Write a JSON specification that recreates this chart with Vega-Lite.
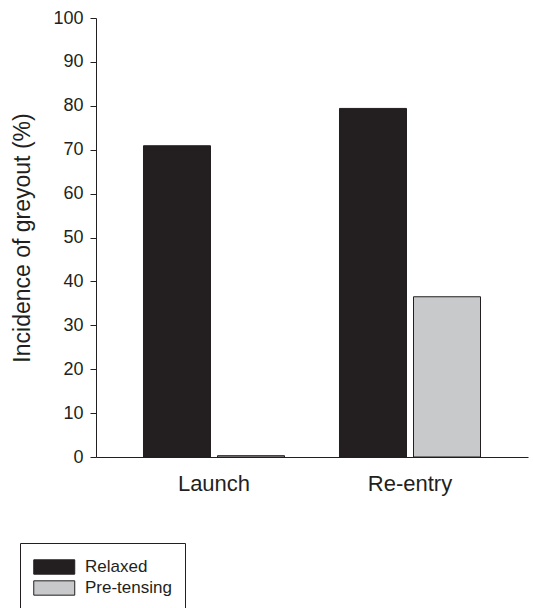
{
  "$schema": "https://vega.github.io/schema/vega-lite/v6.json",
  "autosize": {"type": "none"},
  "padding": {"left": 96, "top": 18, "right": 5, "bottom": 151},
  "width": 432,
  "height": 439,
  "background": "white",
  "config": {
    "view": {"stroke": null},
    "font": "Liberation Sans",
    "axis": {"domainColor": "#231f20", "tickColor": "#231f20", "labelColor": "#231f20", "titleColor": "#231f20", "grid": false, "titleFontWeight": "normal"}
  },
  "data": {
    "values": [
      {"phase": "Launch", "condition": "Relaxed", "value": 70.9},
      {"phase": "Launch", "condition": "Pre-tensing", "value": 0.3},
      {"phase": "Re-entry", "condition": "Relaxed", "value": 79.4},
      {"phase": "Re-entry", "condition": "Pre-tensing", "value": 36.5}
    ]
  },
  "mark": {"type": "bar", "stroke": "#231f20", "strokeWidth": 1},
  "encoding": {
    "x": {
      "field": "phase", "type": "nominal", "sort": ["Launch", "Re-entry"],
      "scale": {"paddingInner": 0, "paddingOuter": 0.102},
      "axis": {"title": null, "labelAngle": 0, "ticks": false, "labelFontSize": 22, "labelPadding": 16, "domainWidth": 1}
    },
    "xOffset": {
      "field": "condition", "type": "nominal", "sort": ["Relaxed", "Pre-tensing"],
      "scale": {"paddingInner": 0.0946, "paddingOuter": 0.3716}
    },
    "y": {
      "field": "value", "type": "quantitative",
      "scale": {"domain": [0, 100], "nice": false},
      "axis": {"title": "Incidence of greyout (%)", "values": [0,10,20,30,40,50,60,70,80,90,100], "tickSize": 6, "labelFontSize": 18, "labelPadding": 7, "titleFontSize": 23, "titlePadding": 18}
    },
    "color": {
      "field": "condition", "type": "nominal", "sort": ["Relaxed", "Pre-tensing"],
      "scale": {"domain": ["Relaxed", "Pre-tensing"], "range": ["#231f20", "#c8c9ca"]},
      "legend": {
        "title": null,
        "orient": "none",
        "legendX": -76,
        "legendY": 525,
        "strokeColor": "#231f20",
        "padding": 13,
        "symbolType": "M-1,-0.7H3V0.7H-1Z",
        "symbolSize": 420,
        "symbolStrokeColor": "#231f20",
        "symbolStrokeWidth": 1,
        "symbolOpacity": 1,
        "labelFontSize": 17,
        "labelColor": "#231f20",
        "labelOffset": 30,
        "rowPadding": 0
      }
    }
  }
}
